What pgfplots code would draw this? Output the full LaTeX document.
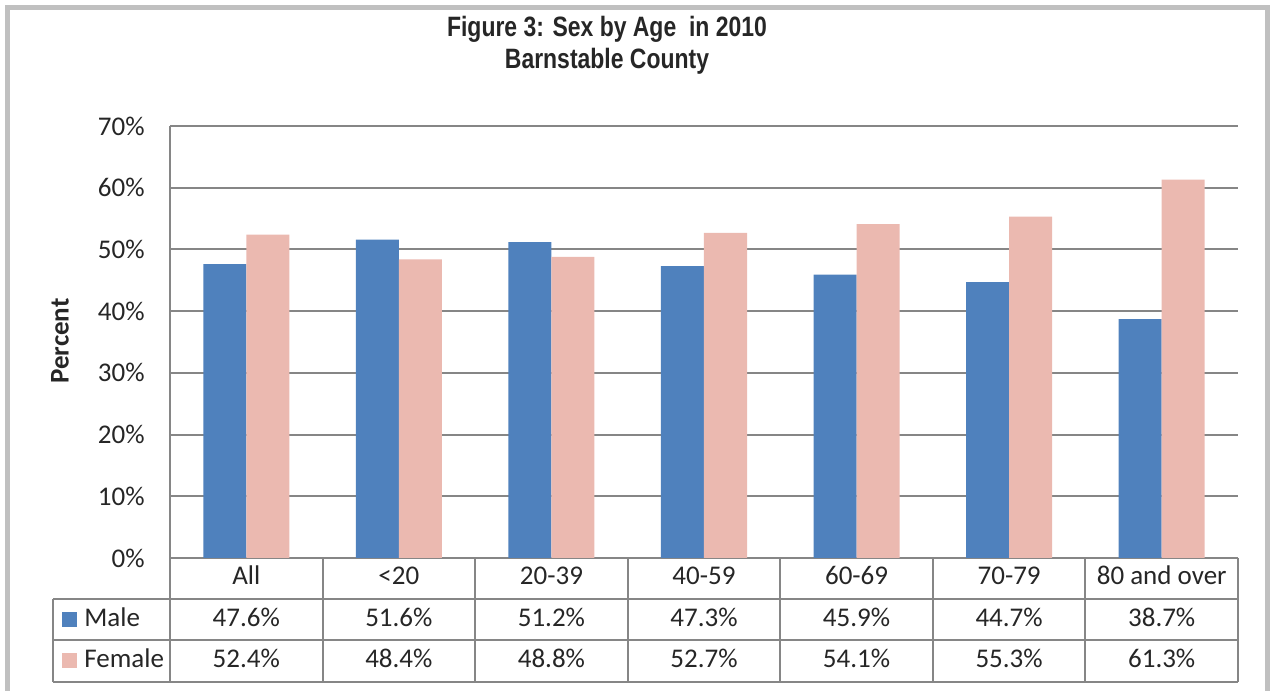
\documentclass[border=0pt]{standalone}
\usepackage{fontspec}
\setmainfont{Carlito}
\newfontfamily\titlefont[FakeStretch=0.82]{Liberation Sans}
\usepackage{pgfplots}
\usepackage{pgfplotstable}
\pgfplotsset{compat=1.18}
\definecolor{maleblue}{RGB}{79,129,189}
\definecolor{femalepink}{RGB}{235,185,176}
\definecolor{gridgray}{RGB}{134,134,134}
\definecolor{framegray}{RGB}{192,192,192}
\definecolor{txt}{RGB}{38,38,38}

\pgfplotstableread{
x male female
0 47.6 52.4
1 51.6 48.4
2 51.2 48.8
3 47.3 52.7
4 45.9 54.1
5 44.7 55.3
6 38.7 61.3
}\sexdata

\newcommand{\bodyfont}{\fontsize{13.5}{16}\selectfont}

\begin{document}
\begin{tikzpicture}[font=\bodyfont]
% pixel frame: 1px = 0.5pt, origin top left
\begin{scope}[x=0.5pt, y=-0.5pt, yshift=345.5pt]
  \useasboundingbox (0,0) rectangle (1270,691);
  \draw[framegray, line width=2.5pt] (7.5,720) -- (7.5,7.5) -- (1267.5,7.5) -- (1267.5,720);
  \node[anchor=base, text=txt, font=\titlefont\bfseries\fontsize{14}{16}\selectfont] at (607,37) {Figure 3: Sex by Age~~in 2010};
  \node[anchor=base, text=txt, font=\titlefont\bfseries\fontsize{14}{16}\selectfont] at (607,69) {Barnstable County};
  \node[rotate=90, text=txt, font=\bodyfont\bfseries] at (60,341) {Percent};
\end{scope}

\begin{axis}[
  scale only axis,
  width=534pt, height=216pt,
  at={(85pt,66.5pt)}, anchor=south west,
  xmin=-0.5, xmax=6.5, ymin=0, ymax=70,
  xtick={0,...,6},
  xticklabels={All,{<20},20-39,40-59,60-69,70-79,80 and over},
  ytick={0,10,...,70},
  yticklabel={\pgfmathprintnumber{\tick}\%},
  /pgf/number format/assume math mode=true,
  axis line style={draw=none},
  major tick length=0pt,
  ymajorgrids,
  major grid style={gridgray, line width=1pt},
  tick label style={font=\bodyfont, text=txt},
  xticklabel style={anchor=base, yshift=-13.5pt, inner sep=0pt},
  yticklabel style={anchor=east, inner sep=0pt, xshift=-12.5pt},
  clip=false,
]
\addplot[ybar, bar width=0.282, bar shift=0pt, fill=maleblue, draw=none]
  table[x expr=\thisrow{x}-0.141, y=male]{\sexdata};
\addplot[ybar, bar width=0.282, bar shift=0pt, fill=femalepink, draw=none]
  table[x expr=\thisrow{x}+0.141, y=female]{\sexdata};
% data table rows
\addplot[draw=none, mark=none, point meta=explicit,
  nodes near coords={\pgfmathprintnumber[fixed,fixed zerofill,precision=1]{\pgfplotspointmeta}\%},
  every node near coord/.append style={anchor=base, text=txt, font=\bodyfont}]
  table[x=x, y expr=-11.18, meta=male]{\sexdata};
\addplot[draw=none, mark=none, point meta=explicit,
  nodes near coords={\pgfmathprintnumber[fixed,fixed zerofill,precision=1]{\pgfplotspointmeta}\%},
  every node near coord/.append style={anchor=base, text=txt, font=\bodyfont}]
  table[x=x, y expr=-17.82, meta=female]{\sexdata};
\end{axis}

\begin{scope}[x=0.5pt, y=-0.5pt, yshift=345.5pt]
  \draw[gridgray, line width=1pt] (170,126) -- (170,682);
  \foreach \k in {1,...,7} {
    \draw[gridgray, line width=1pt] ({170+152.571*\k},558) -- ({170+152.571*\k},682);
  }
  \foreach \r in {599,640,682} {
    \draw[gridgray, line width=1pt] (53,\r) -- (1238,\r);
  }
  \draw[gridgray, line width=1pt] (53,599) -- (53,682);
  \fill[maleblue] (62,612) rectangle (77,627);
  \fill[femalepink] (62,653) rectangle (77,668);
  \node[anchor=base west, inner sep=0pt, text=txt] at (84,627) {Male};
  \node[anchor=base west, inner sep=0pt, text=txt] at (84,668) {Female};
\end{scope}
\end{tikzpicture}
\end{document}
